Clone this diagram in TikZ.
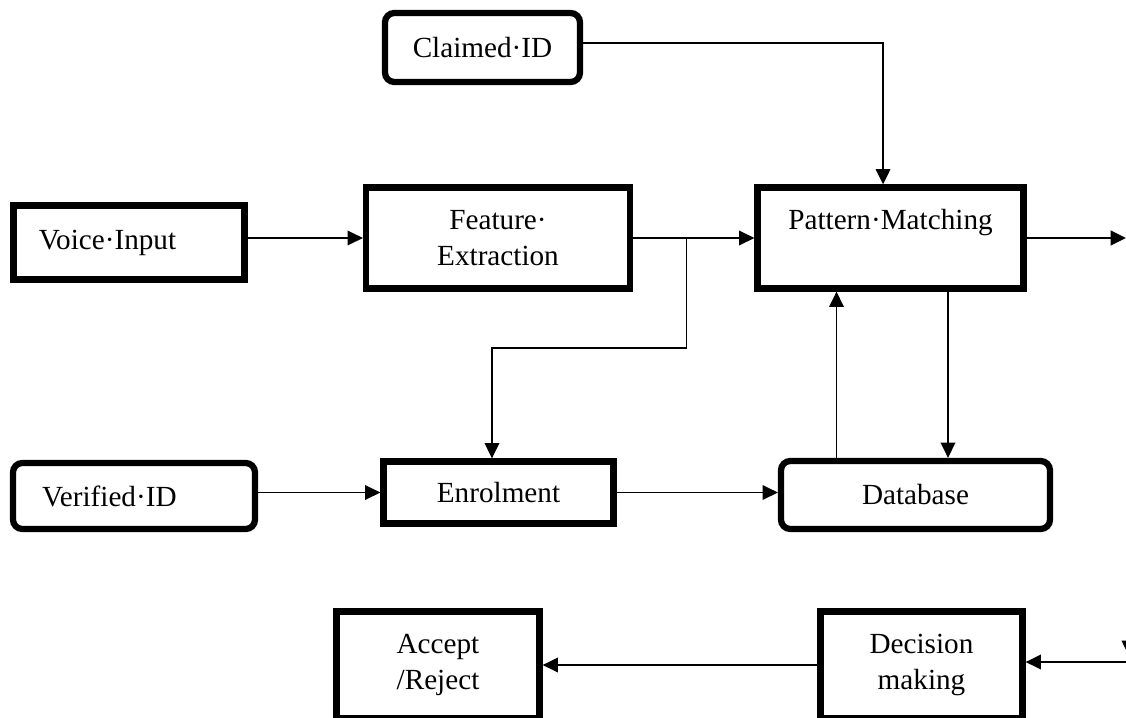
\documentclass[tikz,border=0pt]{standalone}
\usepackage{fontspec}
\setmainfont{Liberation Serif}
\usepackage{tikz}
\usetikzlibrary{arrows.meta,positioning}

\begin{document}
\begin{tikzpicture}[x=0.75pt,y=-0.75pt,font=\fontsize{21.9}{27.6}\selectfont]
  \tikzset{block/.style={draw, line width=4.7pt, align=center, inner sep=2pt}, rblock/.style={block, rounded corners=7pt}, link/.style={-{Triangle[length=11.5pt,width=11pt]}, line width=1.15pt}}
  \useasboundingbox (0,0) rectangle (1126,717);
  \clip (0,0) rectangle (1126,717);
  \node[rblock, minimum width=146.25pt, minimum height=51.75pt] (cid) at (482.5,47.5) {Claimed·ID};
  \node[block, minimum width=173.25pt, minimum height=55.5pt, align=left, inner xsep=19pt, text width=135.25pt] (voice) at (129,242.5) {Voice·Input};
  \node[block, minimum width=198pt, minimum height=75.75pt] (feat) at (498,238) {Feature·\\Extraction};
  \node[block, minimum width=199.5pt, minimum height=75.75pt] (match) at (890.5,238) {Pattern·Matching\\~};
  \node[rblock, minimum width=181.5pt, minimum height=49.5pt, align=left, inner xsep=21.75pt, text width=138pt] (vid) at (134,496) {Verified·ID};
  \node[block, minimum width=172.5pt, minimum height=46.5pt] (enrol) at (498.5,492.5) {Enrolment};
  \node[rblock, minimum width=201.75pt, minimum height=51pt] (db) at (915.5,495) {Database};
  \node[block, minimum width=152.25pt, minimum height=80.25pt] (accept) at (438,665) {Accept\\/Reject};
  \node[block, minimum width=151.5pt, minimum height=80.25pt] (decide) at (921.5,665) {Decision\\making};
  \coordinate (split) at (686.7,238);
  \coordinate (out) at (1126,238);
  \coordinate (back) at (1126,662);
  \coordinate (dropA) at (1129,600);
  \coordinate (dropB) at (1129,656);
  % top row
  \draw[link] ([yshift=3.5pt]cid.east) -| ([xshift=-5.6pt]match.north);
  \draw[link] (voice.east |- feat.west) -- (feat.west);
  \draw[link] (feat) -- (match);
  \draw[link] (match) -- (out);
  \draw[link] (split) -- ++(0,110) -| ([xshift=-4.9pt]enrol.north);
  % store and match
  \draw[link] (vid.east |- enrol.west) -- (enrol.west);
  \draw[link] (enrol.east) -- (enrol.east -| db.west);
  \draw[link] (836.5,0 |- db.north) -- (836.5,0 |- match.south);
  \draw[link] (948,0 |- match.south) -- (948,0 |- db.north);
  % decision
  \draw[link] (dropA) -- (dropB);
  \draw[link] (back) -- (back -| decide.east);
  \draw[link] (decide) -- (accept);
\end{tikzpicture}
\end{document}
